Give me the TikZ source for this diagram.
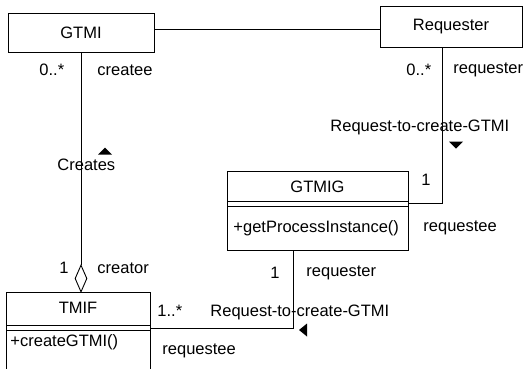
\documentclass[tikz,border=0pt]{standalone}
\usepackage{fontspec}
\setmainfont{Liberation Sans}
\usetikzlibrary{shapes.geometric}
\begin{document}
\begin{tikzpicture}[x=1pt,y=-1pt, line width=0.9pt,
  every node/.style={font=\fontsize{16.5}{19}\selectfont, inner sep=0pt},
  box/.style={draw, rectangle, fill=white},
  lbl/.style={anchor=west},
  agg/.style={draw, diamond, fill=white, minimum width=12pt, minimum height=27pt, inner sep=0pt}]
\clip (0,0) rectangle (525,368);
\fill[white] (0,0) rectangle (525,368);

% classes
\node[box, minimum width=146pt, minimum height=39pt] (gtmi) at (81,32.5) {GTMI};
\node[box, minimum width=142pt, minimum height=41pt] (req) at (451,26.5) {Requester};

\node[box, anchor=north west, minimum width=181pt, minimum height=79pt] (gtmig) at (227,171) {};
\node (gtmigname) at (317.5,187) {GTMIG};
\draw (gtmig.west |- 0,201) -- (gtmig.east |- 0,201);
\draw (gtmig.west |- 0,206) -- (gtmig.east |- 0,206);
\node[lbl] (gtmigop) at (233,228) {+getProcessInstance()};

\node[box, anchor=north west, minimum width=144pt, minimum height=85pt] (tmif) at (6,292) {};
\node (tmifname) at (78,308) {TMIF};
\draw (tmif.west |- 0,325) -- (tmif.east |- 0,325);
\draw (tmif.west |- 0,330) -- (tmif.east |- 0,330);
\node[lbl] (tmifop) at (10,342) {+createGTMI()};

% aggregation diamond
\node[agg] (dia) at (81,278.5) {};

% connectors
\draw (gtmi.east |- 0,29) -- (req.west |- 0,29);
\draw (gtmi.south -| dia.north) -- (dia.north);
\draw (req.south -| 442,0) -- (442,203) -- (gtmig.east |- 0,203);
\draw (tmif.east |- 0,328) -| (gtmig.south -| 293,0);

% labels
\node[lbl] (m1) at (39,70) {0..*};
\node[lbl] (r1) at (97,70) {createe};
\node[lbl] (m2) at (406,70) {0..*};
\node[lbl] (r2) at (453,70) {requester};
\node[lbl] (n1) at (330,127) {Request-to-create-GTMI};
\node[lbl] (m3) at (421,180) {1};
\node[lbl] (n2) at (57,165) {Creates};
\node[lbl] (m4) at (59,268) {1};
\node[lbl] (r3) at (97,268) {creator};
\node[lbl] (m5) at (157,311) {1..*};
\node[lbl] (n3) at (210,312) {Request-to-create-GTMI};
\node[lbl] (r4) at (162,351) {requestee};
\node[lbl] (m6) at (270,273) {1};
\node[lbl] (r5) at (306,273) {requester};
\node[lbl] (r6) at (423,228) {requestee};

% direction triangles
\coordinate (t1) at (105,151);
\fill (t1) ++(-7,3.5) -- ++(14,0) -- ++(-7,-7) -- cycle;
\coordinate (t2) at (456,145);
\fill (t2) ++(-7,-3.5) -- ++(14,0) -- ++(-7,7) -- cycle;
\coordinate (t3) at (303,330);
\fill (t3) ++(4,-6.5) -- ++(0,13) -- ++(-8,-6.5) -- cycle;
\end{tikzpicture}
\end{document}
